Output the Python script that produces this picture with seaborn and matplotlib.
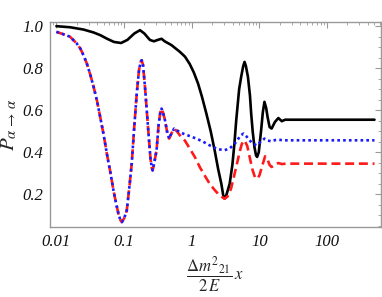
import numpy as np
import pandas as pd
import matplotlib
matplotlib.use("Agg")
import matplotlib.pyplot as plt
import seaborn as sns
from matplotlib.ticker import FixedLocator, FixedFormatter, LogLocator, MultipleLocator

# values, x given as log10(x)
shared_logx = [-2.0, -1.9, -1.8, -1.7, -1.647, -1.6, -1.55, -1.5, -1.45, -1.4, -1.353, -1.3,
               -1.255, -1.2, -1.157, -1.12, -1.084, -1.055, -1.034, -1.0, -0.96, -0.92, -0.887,
               -0.85, -0.813, -0.78, -0.755, -0.74, -0.72, -0.691, -0.665, -0.643, -0.61, -0.59,
               -0.578, -0.56, -0.52, -0.49, -0.465, -0.446, -0.425, -0.397, -0.36, -0.334, -0.30,
               -0.26]
shared_p = [0.973, 0.962, 0.950, 0.918, 0.894, 0.862, 0.822, 0.770, 0.711, 0.645, 0.568, 0.480,
            0.394, 0.300, 0.219, 0.160, 0.108, 0.078, 0.068, 0.085, 0.124, 0.24, 0.346,
            0.52, 0.679, 0.79, 0.83, 0.838, 0.815, 0.71, 0.60, 0.505, 0.37, 0.325,
            0.314, 0.34, 0.41, 0.53, 0.59, 0.608, 0.59, 0.555, 0.49, 0.465, 0.49,
            0.513]

blue_logx = [-0.22, -0.176, -0.128, -0.03, 0.069, 0.17, 0.265, 0.38, 0.485, 0.56, 0.657, 0.72,
             0.765, 0.81, 0.853, 0.91, 0.96, 1.02, 1.074, 1.12, 1.18, 1.23, 1.28, 1.35, 2.7]
blue_p = [0.505, 0.496, 0.489, 0.477, 0.465, 0.450, 0.433, 0.415, 0.41, 0.418, 0.449, 0.48,
          0.489, 0.475, 0.457, 0.44, 0.433, 0.45, 0.465, 0.456, 0.452, 0.458, 0.46, 0.457, 0.457]

red_logx = [-0.22, -0.176, -0.10, -0.03, 0.05, 0.118, 0.19, 0.265, 0.34, 0.41, 0.485, 0.53, 0.58,
            0.62, 0.657, 0.706, 0.74, 0.78, 0.82, 0.86, 0.90, 0.935, 0.966, 1.0, 1.04, 1.084,
            1.12, 1.15, 1.18, 1.23, 1.28, 1.33, 1.4, 2.7]
red_p = [0.50, 0.481, 0.455, 0.418, 0.375, 0.33, 0.29, 0.25, 0.22, 0.195, 0.179, 0.19, 0.227,
         0.28, 0.33, 0.40, 0.44, 0.457, 0.43, 0.37, 0.314, 0.28, 0.274, 0.29, 0.335, 0.381,
         0.365, 0.34, 0.33, 0.342, 0.349, 0.344, 0.346, 0.346]

black_logx = [-2.0, -1.8, -1.6, -1.45, -1.35, -1.25, -1.15, -1.044, -0.95, -0.85, -0.765, -0.70,
              -0.62, -0.56, -0.50, -0.446, -0.40, -0.30, -0.176, -0.10, -0.03, 0.03, 0.093, 0.15,
              0.216, 0.28, 0.338, 0.39, 0.437, 0.465, 0.485, 0.51, 0.56, 0.60, 0.63, 0.657, 0.70,
              0.73, 0.76, 0.78, 0.80, 0.83, 0.86, 0.878, 0.90, 0.926, 0.95, 0.966, 0.99, 1.025,
              1.05, 1.074, 1.10, 1.12, 1.15, 1.18, 1.23, 1.28, 1.33, 1.38, 2.7]
black_p = [1.0, 0.995, 0.984, 0.97, 0.957, 0.94, 0.925, 0.92, 0.935, 0.965, 0.981, 0.965,
           0.935, 0.928, 0.935, 0.94, 0.928, 0.91, 0.878, 0.855, 0.82, 0.78, 0.727, 0.665,
           0.584, 0.50, 0.41, 0.32, 0.25, 0.195, 0.18, 0.195, 0.25, 0.34, 0.44, 0.552, 0.70,
           0.759, 0.81, 0.83, 0.81, 0.759, 0.67, 0.584, 0.50, 0.425, 0.385, 0.378, 0.40, 0.505,
           0.59, 0.64, 0.61, 0.568, 0.52, 0.513, 0.545, 0.563, 0.548, 0.555, 0.555]

sns.set_style("white")
plt.rcParams['mathtext.fontset'] = 'stix'
plt.rcParams['font.family'] = ['Liberation Serif', 'DejaVu Serif']

fig = plt.figure(figsize=(3.82, 2.97), dpi=100)
ax = fig.add_axes([0.131, 0.236, 0.866, 0.690])

black = pd.DataFrame({"x": 10 ** np.array(black_logx), "p": black_p})
red = pd.DataFrame({"x": 10 ** np.array(shared_logx + red_logx), "p": shared_p + red_p})
blue = pd.DataFrame({"x": 10 ** np.array(shared_logx + blue_logx), "p": shared_p + blue_p})

sns.lineplot(data=black, x="x", y="p", ax=ax, color="black", lw=1.9, sort=False, estimator=None)
sns.lineplot(data=red, x="x", y="p", ax=ax, color="#ff1a1a", lw=1.9, sort=False, estimator=None,
             dashes=False, linestyle=(0, (3.4, 1.8)))
sns.lineplot(data=blue, x="x", y="p", ax=ax, color="#1a1aff", lw=1.9, sort=False, estimator=None,
             dashes=False, linestyle=(0, (1, 1.2)))

ax.set_xscale("log")
ax.set_xlim(10 ** -2.094, 10 ** 2.794)
ax.set_ylim(0.045, 1.02)

ax.xaxis.set_major_locator(FixedLocator([0.01, 0.1, 1, 10, 100]))
ax.xaxis.set_major_formatter(FixedFormatter(["0.01", "0.1", "1", "10", "100"]))
ax.xaxis.set_minor_locator(LogLocator(base=10, subs=np.arange(2, 10), numticks=20))
ax.xaxis.set_minor_formatter(FixedFormatter([]))
ax.yaxis.set_major_locator(FixedLocator([0.2, 0.4, 0.6, 0.8, 1.0]))
ax.yaxis.set_major_formatter(FixedFormatter(["0.2", "0.4", "0.6", "0.8", "1.0"]))
ax.yaxis.set_minor_locator(MultipleLocator(0.05))

ax.tick_params(which="both", direction="in", top=True, right=True, color="#999999",
               labelsize=12, labelcolor="#111111")
ax.tick_params(which="major", length=4, width=0.8, pad=5)
ax.tick_params(which="minor", length=2, width=0.6)
for lab in ax.get_xticklabels() + ax.get_yticklabels():
    lab.set_fontstyle("italic")
for s in ax.spines.values():
    s.set_color("#999999")
    s.set_linewidth(1.0)

ax.set_xlabel(r"$\dfrac{\Delta m^2{}_{21}}{2\,E}\,x$", fontsize=12, labelpad=3)
ax.set_ylabel(r"$P_{\alpha\,\rightarrow\,\alpha}$", fontsize=15, labelpad=2)

fig.savefig("out.png", dpi=100)
